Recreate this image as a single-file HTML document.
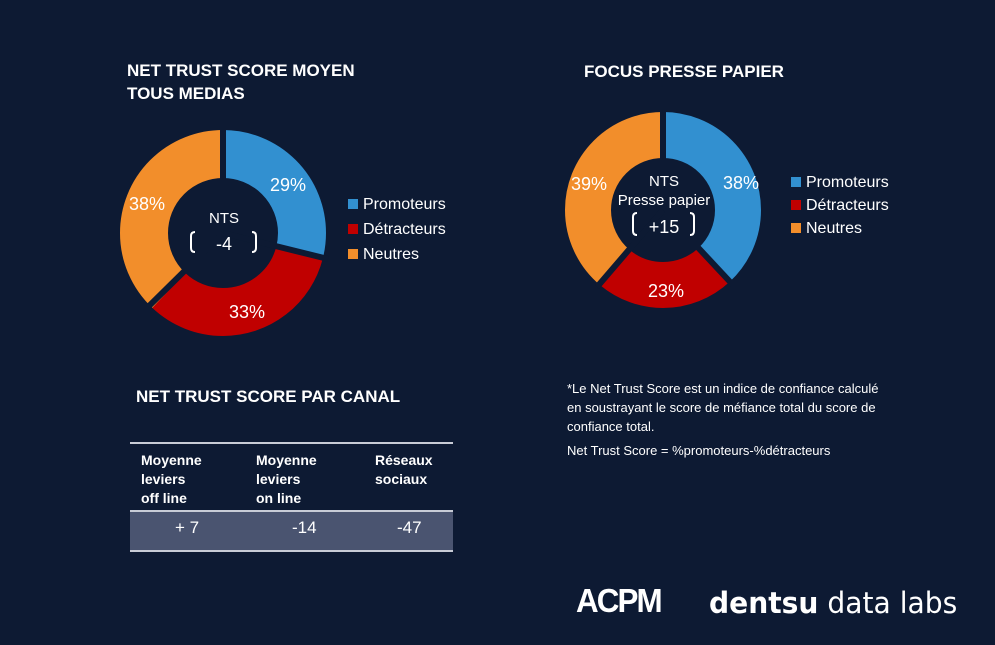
<!DOCTYPE html>
<html><head><meta charset="utf-8"><style>
body{margin:0;width:995px;height:645px;background:#0d1a33;overflow:hidden;font-family:"Liberation Sans",sans-serif;color:#fff;position:relative}
.a{position:absolute;white-space:nowrap}
.h{font-weight:bold;font-size:17px}
.leg{font-size:16px}
.sq{display:inline-block;width:10px;height:10px;margin-right:5px}
</style></head><body>
<div class="a h" style="left:127px;top:59px;line-height:23px">NET TRUST SCORE MOYEN<br>TOUS MEDIAS</div>
<div class="a h" style="left:584px;top:62px">FOCUS PRESSE PAPIER</div>
<div class="a h" style="left:136px;top:387px">NET TRUST SCORE PAR CANAL</div>

<svg class="a" style="left:0;top:0" width="995" height="645">
<g transform="translate(223,233) rotate(-90)" fill="none" stroke-width="48">
<circle r="79" stroke="#3290d0" stroke-dasharray="144 496.4" stroke-dashoffset="0"/>
<circle r="79" stroke="#c00000" stroke-dasharray="163.8 496.4" stroke-dashoffset="-144"/>
<circle r="79" stroke="#f28e2b" stroke-dasharray="188.6 496.4" stroke-dashoffset="-307.8"/>
</g>
<g stroke="#0d1a33" stroke-width="6">
<line x1="223" y1="233" x2="223" y2="125"/>
<line x1="223" y1="233" x2="328" y2="259"/>
<line x1="223" y1="233" x2="148" y2="307"/>
</g>
<g transform="translate(663,210) rotate(-90)" fill="none" stroke-width="46">
<circle r="75" stroke="#3290d0" stroke-dasharray="179.1 471.2" stroke-dashoffset="0"/>
<circle r="75" stroke="#c00000" stroke-dasharray="108.4 471.2" stroke-dashoffset="-179.1"/>
<circle r="75" stroke="#f28e2b" stroke-dasharray="183.7 471.2" stroke-dashoffset="-287.5"/>
</g>
<g stroke="#0d1a33" stroke-width="6">
<line x1="663" y1="210" x2="663" y2="108"/>
<line x1="663" y1="210" x2="733" y2="285"/>
<line x1="663" y1="210" x2="597" y2="287"/>
</g>
<g fill="none" stroke="#fff" stroke-width="2">
<path d="M195 232 q-4 0 -4 4 v12 q0 4 4 4"/><path d="M252 232 q4 0 4 4 v12 q0 4 -4 4"/>
<path d="M637 213 q-4 0 -4 4 v14 q0 4 4 4"/><path d="M690 213 q4 0 4 4 v14 q0 4 -4 4"/>
</g>
<g fill="#fff" font-family="Liberation Sans" font-size="18" text-anchor="middle">
<text x="288" y="191">29%</text><text x="247" y="318">33%</text><text x="147" y="210">38%</text>
<text x="224" y="223" font-size="15">NTS</text><text x="224" y="250" font-size="18">-4</text>
<text x="741" y="189">38%</text><text x="666" y="297">23%</text><text x="589" y="190">39%</text>
<text x="664" y="186" font-size="15">NTS</text><text x="664" y="205" font-size="15">Presse papier</text><text x="664" y="233" font-size="18">+15</text>
</g>
<line x1="130" y1="443" x2="453" y2="443" stroke="#c8ccd6" stroke-width="2"/>
<rect x="130" y="511" width="323" height="39" fill="#4a5470"/>
<line x1="130" y1="511" x2="453" y2="511" stroke="#c8ccd6" stroke-width="2"/>
<line x1="130" y1="551" x2="453" y2="551" stroke="#c8ccd6" stroke-width="2"/>
</svg>

<div class="a leg" style="left:348px;top:192px;line-height:25px">
<div><span class="sq" style="background:#3290d0"></span>Promoteurs</div>
<div><span class="sq" style="background:#c00000"></span>Détracteurs</div>
<div><span class="sq" style="background:#f28e2b"></span>Neutres</div></div>
<div class="a leg" style="left:791px;top:171px;line-height:23px">
<div><span class="sq" style="background:#3290d0"></span>Promoteurs</div>
<div><span class="sq" style="background:#c00000"></span>Détracteurs</div>
<div><span class="sq" style="background:#f28e2b"></span>Neutres</div></div>

<div class="a" style="left:141px;top:451px;font-weight:bold;font-size:14px;line-height:19px">Moyenne<br>leviers<br>off line</div>
<div class="a" style="left:256px;top:451px;font-weight:bold;font-size:14px;line-height:19px">Moyenne<br>leviers<br>on line</div>
<div class="a" style="left:375px;top:451px;font-weight:bold;font-size:14px;line-height:19px">Réseaux<br>sociaux</div>
<div class="a" style="left:175px;top:518px;font-size:17px">+ 7</div>
<div class="a" style="left:292px;top:518px;font-size:17px">-14</div>
<div class="a" style="left:397px;top:518px;font-size:17px">-47</div>

<div class="a" style="left:567px;top:379px;font-size:13px;line-height:19px">*Le Net Trust Score est un indice de confiance calculé<br>en soustrayant le score de méfiance total du score de<br>confiance total.</div>
<div class="a" style="left:567px;top:443px;font-size:13px">Net Trust Score = %promoteurs-%détracteurs</div>

<div class="a" style="left:576px;top:582px;font-size:33px;font-weight:bold;letter-spacing:-2px;transform:scaleX(0.95);transform-origin:left">ACPM</div>
<div class="a" style="left:709px;top:586px;font-size:29px;font-family:'DejaVu Sans',sans-serif;transform:scaleX(0.97);transform-origin:left"><b>dentsu</b> data labs</div>
</body></html>
